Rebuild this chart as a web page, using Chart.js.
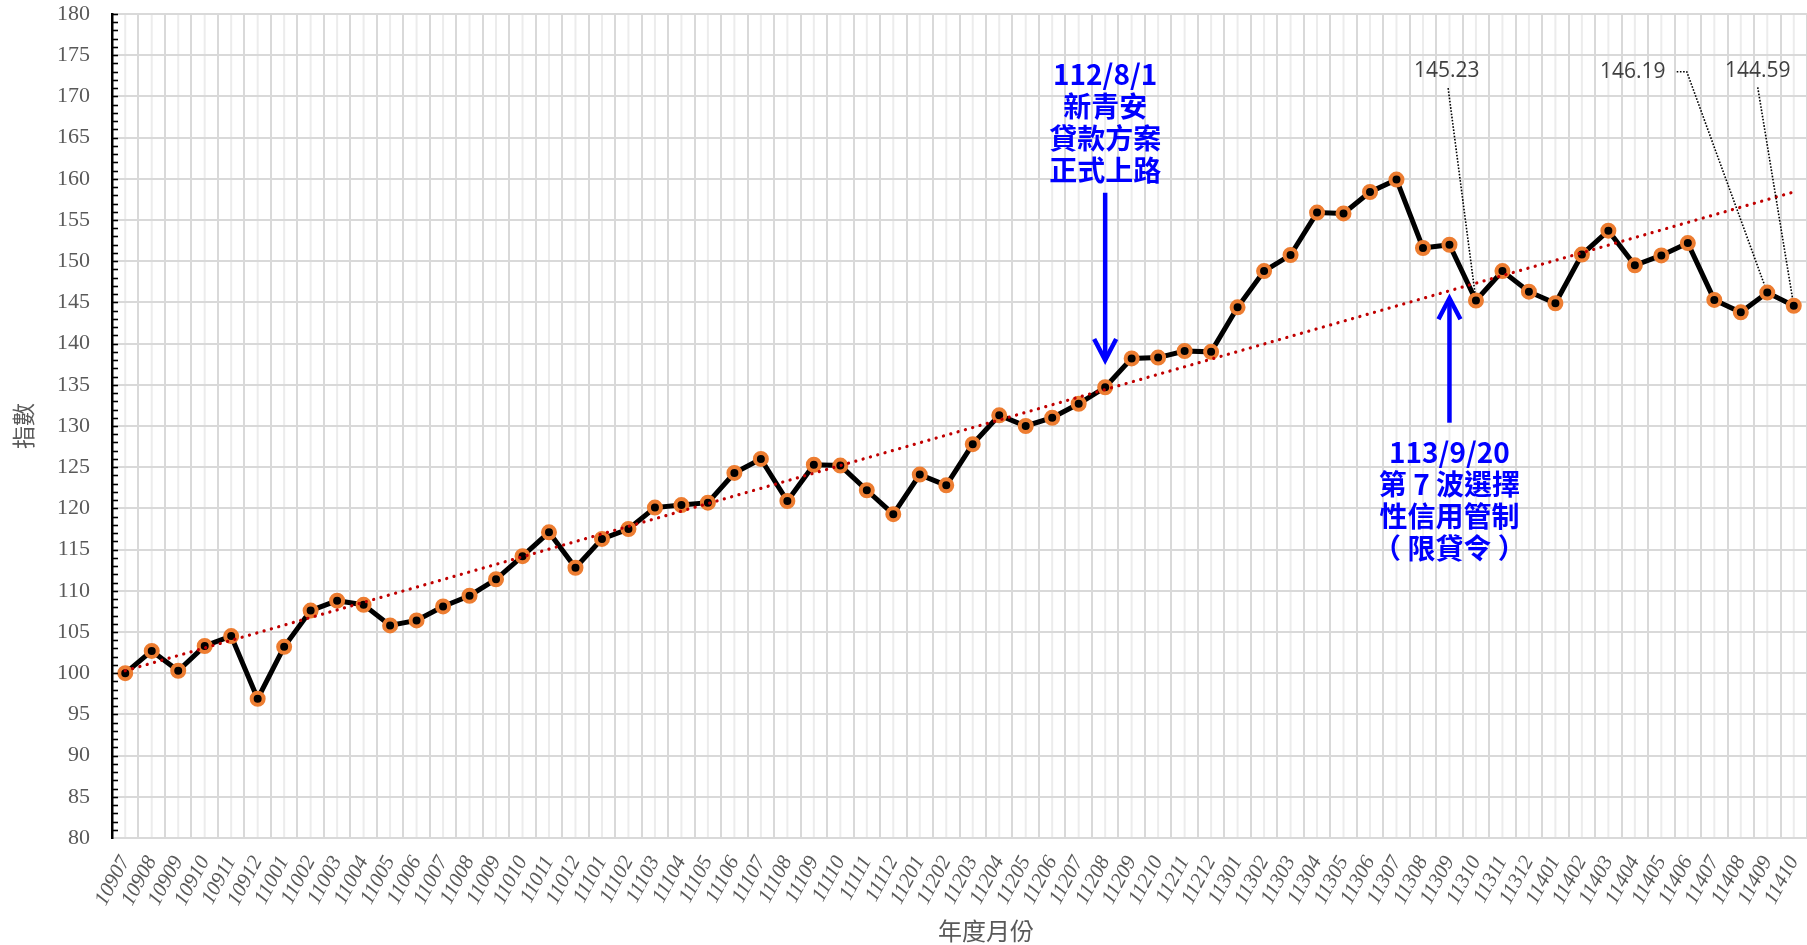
<!DOCTYPE html>
<html lang="zh-Hant">
<head>
<meta charset="utf-8">
<script src="https://cdn.jsdelivr.net/npm/chart.js@4.4.1/dist/chart.umd.min.js"></script>
<style>
  html, body { margin: 0; padding: 0; background: #fff; }
  #wrap { width: 1807px; height: 945px; position: relative; }
</style>
</head>
<body>
<div id="wrap"><canvas id="chart"></canvas></div>
<script>
// 年度月份 (ROC year + month)
const months = [
  '10907','10908','10909','10910','10911','10912',
  '11001','11002','11003','11004','11005','11006','11007','11008','11009','11010','11011','11012',
  '11101','11102','11103','11104','11105','11106','11107','11108','11109','11110','11111','11112',
  '11201','11202','11203','11204','11205','11206','11207','11208','11209','11210','11211','11212',
  '11301','11302','11303','11304','11305','11306','11307','11308','11309','11310','11311','11312',
  '11401','11402','11403','11404','11405','11406','11407','11408','11409','11410'
];

// 指數
const indexValues = [
  100.0, 102.7, 100.3, 103.3, 104.5,  96.9,
  103.2, 107.6, 108.8, 108.3, 105.8, 106.4, 108.1, 109.4, 111.4, 114.2, 117.1, 112.8,
  116.3, 117.5, 120.1, 120.4, 120.7, 124.3, 126.0, 120.9, 125.3, 125.2, 122.2, 119.3,
  124.1, 122.8, 127.8, 131.3, 130.0, 131.0, 132.7, 134.7, 138.2, 138.3, 139.1, 139.0,
  144.4, 148.8, 150.75, 155.9, 155.8, 158.4, 159.9, 151.6, 152.0, 145.23, 148.8, 146.3,
  144.9, 150.8, 153.7, 149.5, 150.7, 152.2, 145.3, 143.8, 146.19, 144.59
];

// linear trend line at both ends
const trendStart = 100.3;
const trendEnd   = 158.4;

const yMin = 80, yMax = 180, yStep = 5;

// policy events: arrow from -> to (index values), text lines starting at textAt
const events = [
  { month: '11208', lines: ['112/8/1', '新青安', '貸款方案', '正式上路'], textAt: 172.7, arrowFrom: 158.3, arrowTo: 138.0 },
  { month: '11309', lines: ['113/9/20', '第 7 波選擇', '性信用管制', '（ 限貸令 ）'], textAt: 126.8, arrowFrom: 130.4, arrowTo: 145.5 },
];

// value callouts: label position [category position, value], leader bends
const callouts = [
  { month: '11310', text: '145.23', at: [49.9, 173.1],  via: [[49.95, 171.0]] },
  { month: '11409', text: '146.19', at: [56.92, 172.9], via: [[58.58, 173.0], [58.96, 173.0]] },
  { month: '11410', text: '144.59', at: [61.64, 173.1], via: [[61.64, 171.1]] },
];

const BLUE = '#0000ff';
const GREY = '#595959';
const CJK  = "'Noto Sans CJK TC', 'Noto Sans CJK SC', sans-serif";

const overlay = {
  id: 'overlay',
  beforeDraw(chart) {
    // lighter gridlines through each month
    const { ctx, chartArea: a, scales: { x } } = chart;
    ctx.save();
    ctx.strokeStyle = '#ececec';
    ctx.lineWidth = 2;
    months.forEach((m, i) => {
      const px = x.getPixelForValue(i);
      ctx.beginPath(); ctx.moveTo(px, a.top); ctx.lineTo(px, a.bottom); ctx.stroke();
    });
    ctx.restore();
  },
  afterDraw(chart) {
    const { ctx, chartArea: a, scales: { x, y } } = chart;
    ctx.save();

    // minor tick marks inside the value axis
    ctx.strokeStyle = '#000';
    ctx.lineWidth = 1.6;
    for (let v = yMin + 1; v <= yMax; v++) {
      const py = Math.round(y.getPixelForValue(v)) + 0.5;
      ctx.beginPath(); ctx.moveTo(a.left, py); ctx.lineTo(a.left + 6, py); ctx.stroke();
    }

    // event arrows + text
    ctx.strokeStyle = BLUE;
    ctx.fillStyle = BLUE;
    ctx.lineWidth = 4.5;
    ctx.textAlign = 'center';
    ctx.textBaseline = 'middle';
    ctx.font = `bold 28px ${CJK}`;
    events.forEach(ev => {
      const px = x.getPixelForValue(months.indexOf(ev.month));
      const y0 = y.getPixelForValue(ev.arrowFrom);
      const y1 = y.getPixelForValue(ev.arrowTo);
      const dir = Math.sign(y1 - y0);
      ctx.beginPath(); ctx.moveTo(px, y0); ctx.lineTo(px, y1 - dir * 3); ctx.stroke();
      ctx.beginPath();
      ctx.moveTo(px - 11, y1 - dir * 21); ctx.lineTo(px, y1); ctx.lineTo(px + 11, y1 - dir * 21);
      ctx.stroke();
      const ty = y.getPixelForValue(ev.textAt);
      ev.lines.forEach((t, k) => ctx.fillText(t, px, ty + k * 32));
    });

    // callouts with dotted leaders
    ctx.font = "21px 'Open Sans', sans-serif";
    ctx.fillStyle = '#404040';
    ctx.strokeStyle = '#000';
    ctx.lineWidth = 1.6;
    ctx.setLineDash([1.6, 1.6]);
    callouts.forEach(c => {
      const i = months.indexOf(c.month);
      ctx.fillText(c.text, x.getPixelForValue(c.at[0]), y.getPixelForValue(c.at[1]));
      const pts = c.via.map(([cx, cv]) => [x.getPixelForValue(cx), y.getPixelForValue(cv)]);
      const tx = x.getPixelForValue(i), tyy = y.getPixelForValue(indexValues[i]);
      const [lx, ly] = pts[pts.length - 1];
      const d = Math.hypot(tx - lx, tyy - ly);
      ctx.beginPath();
      ctx.moveTo(pts[0][0], pts[0][1]);
      pts.slice(1).forEach(p => ctx.lineTo(p[0], p[1]));
      ctx.lineTo(tx - (tx - lx) / d * 8, tyy - (tyy - ly) / d * 8);
      ctx.stroke();
    });
    ctx.setLineDash([]);

    // category axis title
    ctx.font = `24px ${CJK}`;
    ctx.fillStyle = GREY;
    ctx.fillText('年度月份', x.getPixelForValue(32.5), 931);
    ctx.restore();
  }
};

Chart.defaults.font.family = "'Liberation Serif', serif";

new Chart(document.getElementById('chart'), {
  type: 'line',
  data: {
    labels: months,
    datasets: [
      {
        label: 'trend',
        data: [{ x: months[0], y: trendStart }, { x: months[months.length - 1], y: trendEnd }],
        borderColor: '#c00000',
        borderWidth: 3.2,
        borderDash: [0.1, 7.5],
        borderCapStyle: 'round',
        pointRadius: 0,
        fill: false,
        order: 0,
      },
      {
        label: '指數',
        data: indexValues,
        borderColor: '#000',
        borderWidth: 5,
        pointRadius: 6,
        pointBorderWidth: 4,
        pointBorderColor: '#ed7d31',
        pointBackgroundColor: '#000',
        pointHoverRadius: 6,
        tension: 0,
        clip: false,
        order: 1,
      },
    ],
  },
  options: {
    responsive: true,
    maintainAspectRatio: false,
    animation: false,
    layout: { autoPadding: false, padding: { top: 14, left: 5, right: 0, bottom: 0 } },
    plugins: { legend: { display: false }, tooltip: { enabled: false } },
    scales: {
      x: {
        offset: true,
        grid: { offset: true, color: '#d9d9d9', lineWidth: 2, drawTicks: false },
        border: { color: '#d9d9d9', width: 2 },
        ticks: {
          autoSkip: false, maxRotation: 62, minRotation: 62, padding: 14,
          color: GREY, font: { size: 21, style: 'italic' },
        },
        afterFit(s) {
          s.height = 107;
          s.paddingLeft = 0; s.paddingRight = 0;
        },
      },
      y: {
        min: yMin, max: yMax,
        grid: { color: '#d9d9d9', lineWidth: 2, drawTicks: false },
        border: { color: '#000', width: 2.5 },
        ticks: { stepSize: yStep, padding: 22, color: GREY, font: { size: 22 } },
        title: {
          display: true, text: '指數', color: GREY,
          font: { family: CJK, size: 23 }, padding: { top: 4, bottom: 0 },
        },
        afterFit(s) {
          s.width = 107;
          s.paddingTop = 0; s.paddingBottom = 0;
        },
      },
    },
  },
  plugins: [overlay],
});
</script>
</body>
</html>
